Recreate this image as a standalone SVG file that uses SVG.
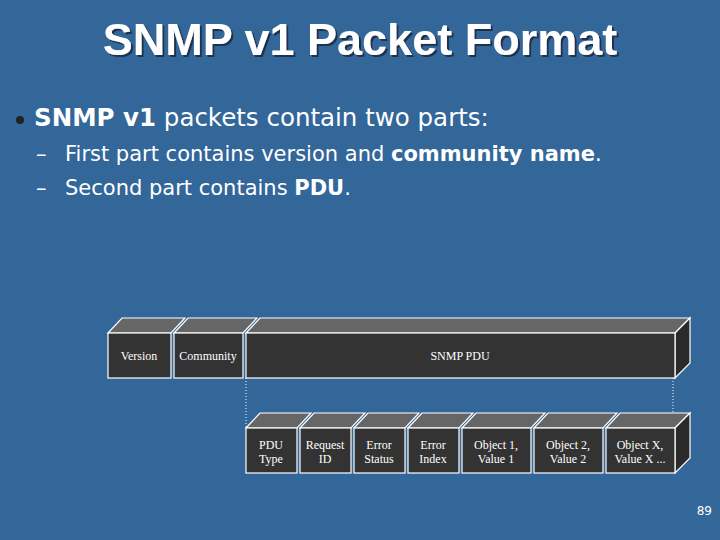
<svg xmlns="http://www.w3.org/2000/svg" width="720" height="540" viewBox="0 0 720 540">
<defs>
<style>
.t{font-family:"Liberation Serif",serif;font-size:12px;fill:#fff;text-anchor:middle}
.f{fill:#333;stroke:#fff;stroke-width:1.2}
.top{fill:#666;stroke:#fff;stroke-width:1.2}
.side{fill:#2a2a2a;stroke:#fff;stroke-width:1.2}
.s{font-family:"DejaVu Sans",sans-serif;fill:#fff}
</style>
<filter id="sh" x="-5%" y="-20%" width="110%" height="140%"><feDropShadow dx="2" dy="2" stdDeviation="0.5" flood-color="#1a3350"/></filter>
</defs>
<rect width="720" height="540" fill="#336699"/>
<text x="360" y="55" font-family="Liberation Sans,sans-serif" font-weight="bold" font-size="45" fill="#fff" text-anchor="middle" filter="url(#sh)">SNMP v1 Packet Format</text>
<circle cx="20" cy="120" r="4" fill="#222"/>
<text x="34" y="126" class="s" font-size="24.5"><tspan font-weight="bold">SNMP v1</tspan> packets contain two parts:</text>
<text x="36" y="161" class="s" font-size="21">–</text>
<text x="65" y="161" class="s" font-size="21">First part contains version and <tspan font-weight="bold">community name</tspan>.</text>
<text x="36" y="195" class="s" font-size="21">–</text>
<text x="65" y="195" class="s" font-size="21">Second part contains <tspan font-weight="bold">PDU</tspan>.</text>
<g id="connectors" stroke="#fff" stroke-dasharray="1,2" fill="none">
<line x1="246" y1="378" x2="246" y2="428"/>
<line x1="673" y1="378" x2="673" y2="428"/>
</g>
<g id="version"><polygon class="top" points="108,333 122,318 185,318 171,333"/><rect class="f" x="108" y="333" width="63" height="45"/><text class="t" x="139" y="360">Version</text></g>
<g id="community"><polygon class="top" points="174,333 188,318 257,318 243,333"/><rect class="f" x="174" y="333" width="69" height="45"/><text class="t" x="208" y="360">Community</text></g>
<g id="snmppdu"><polygon class="top" points="246,333 260,318 690,318 675,333"/><polygon class="side" points="675,333 690,318 690,363 675,378"/><rect class="f" x="246" y="333" width="429" height="45"/><text class="t" x="460" y="360">SNMP PDU</text></g>
<g id="pdutype"><polygon class="top" points="246,428 260,413 311,413 297,428"/><rect class="f" x="246" y="428" width="51" height="45"/><text class="t" x="271" y="449">PDU</text><text class="t" x="271" y="463">Type</text></g>
<g id="requestid"><polygon class="top" points="300,428 314,413 365,413 351,428"/><rect class="f" x="300" y="428" width="51" height="45"/><text class="t" x="325" y="449">Request</text><text class="t" x="325" y="463">ID</text></g>
<g id="errorstatus"><polygon class="top" points="354,428 368,413 419,413 405,428"/><rect class="f" x="354" y="428" width="51" height="45"/><text class="t" x="379" y="449">Error</text><text class="t" x="379" y="463">Status</text></g>
<g id="errorindex"><polygon class="top" points="408,428 422,413 473,413 459,428"/><rect class="f" x="408" y="428" width="51" height="45"/><text class="t" x="433" y="449">Error</text><text class="t" x="433" y="463">Index</text></g>
<g id="obj1"><polygon class="top" points="462,428 476,413 545,413 531,428"/><rect class="f" x="462" y="428" width="69" height="45"/><text class="t" x="496" y="449">Object 1,</text><text class="t" x="496" y="463">Value 1</text></g>
<g id="obj2"><polygon class="top" points="534,428 548,413 617,413 603,428"/><rect class="f" x="534" y="428" width="69" height="45"/><text class="t" x="568" y="449">Object 2,</text><text class="t" x="568" y="463">Value 2</text></g>
<g id="objx"><polygon class="top" points="606,428 620,413 690,413 675,428"/><polygon class="side" points="675,428 690,413 690,458 675,473"/><rect class="f" x="606" y="428" width="69" height="45"/><text class="t" x="640" y="449">Object X,</text><text class="t" x="640" y="463">Value X ...</text></g>
<text x="712" y="515" font-family="DejaVu Sans,sans-serif" font-size="12" fill="#fff" text-anchor="end">89</text>
</svg>
